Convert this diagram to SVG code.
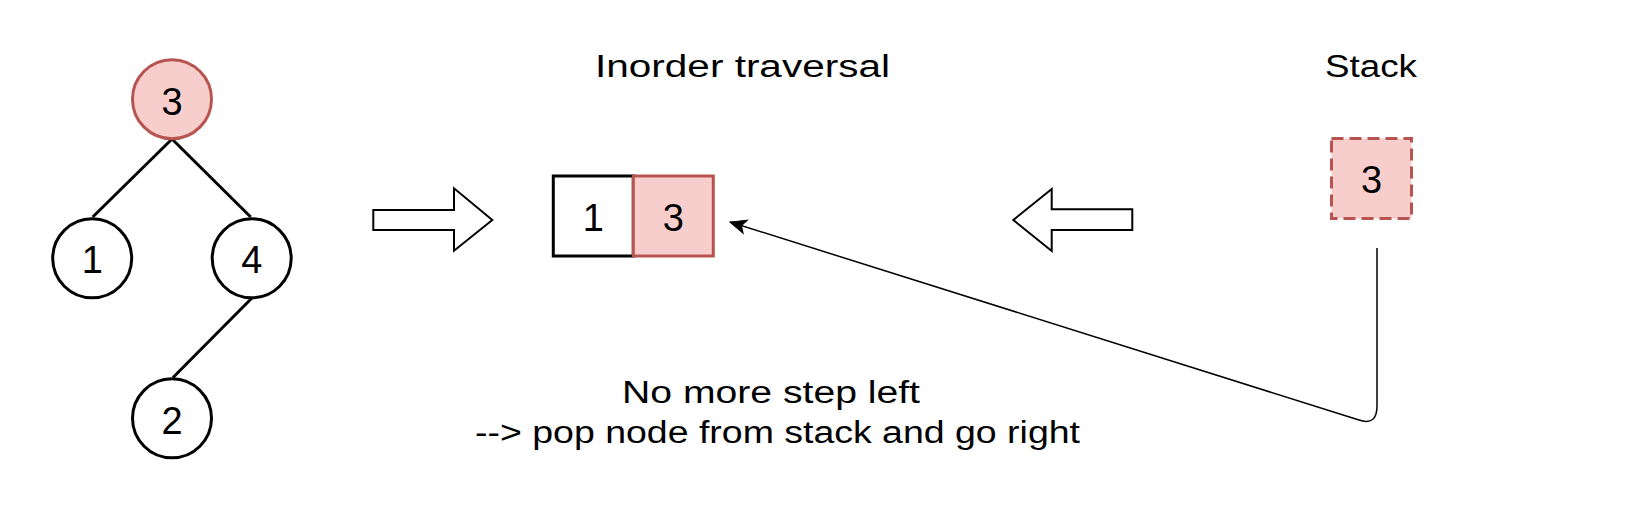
<svg xmlns="http://www.w3.org/2000/svg" width="1648" height="510" viewBox="0 0 1648 510">
<style>
.n{fill:#ffffff;stroke:#000000;stroke-width:3}
.hl{fill:#f8cecc;stroke:#b85450;stroke-width:3}
.dash{fill:#f8cecc;stroke:#b85450;stroke-width:3;stroke-dasharray:12 6}
.edge{fill:none;stroke:#000000;stroke-width:3}
.blk{fill:#ffffff;stroke:#000000;stroke-width:2}
.con{fill:none;stroke:#000000;stroke-width:1.5}
text{font-family:"Comic Sans MS","Liberation Sans",sans-serif;fill:#000000}
.d{font-size:38px;text-anchor:middle}
.t{font-size:31px}
</style>
<defs>
<marker id="ah" viewBox="0 0 20 20" refX="18" refY="10" markerWidth="20" markerHeight="20" markerUnits="userSpaceOnUse" orient="auto">
<path d="M2 3 L18 10 L2 17 L6 10 Z" fill="#000000" stroke="#000000" stroke-width="1"/>
</marker>
</defs>
<g id="connectors">
<line class="edge" x1="172" y1="139" x2="92.7" y2="217"/>
<line class="edge" x1="172" y1="139" x2="250.7" y2="217"/>
<line class="edge" x1="251.7" y1="298.3" x2="173" y2="377.5"/>
<path class="con" d="M1377 248 L1377 406 Q1377 426 1359 420 L730 222" marker-end="url(#ah)"/>
</g>
<g id="node-root"><circle class="hl" cx="172" cy="99.2" r="39.5"/><text class="d" x="172" y="114.5">3</text></g>
<g id="node-1"><circle class="n" cx="92.2" cy="258.3" r="39.5"/><text class="d" x="92.2" y="273">1</text></g>
<g id="node-4"><circle class="n" cx="251.7" cy="258.3" r="39.5"/><text class="d" x="251.7" y="273">4</text></g>
<g id="node-2"><circle class="n" cx="172" cy="418.3" r="39.5"/><text class="d" x="172" y="433.5">2</text></g>
<g id="arrow-right"><path class="blk" d="M373.3 210 L454 210 L454 188.3 L492.3 220 L454 250.7 L454 230 L373.3 230 Z"/></g>
<g id="arrow-left"><path class="blk" d="M1132.3 209.3 L1051.7 209.3 L1051.7 189 L1013.3 220 L1051.7 251 L1051.7 230 L1132.3 230 Z"/></g>
<g id="box-1"><rect class="n" x="553.3" y="176" width="80" height="80"/><text class="d" x="593.3" y="231">1</text></g>
<g id="box-3"><rect class="hl" x="633.3" y="176" width="80" height="80"/><text class="d" x="673.3" y="231">3</text></g>
<g id="stack-3"><rect class="dash" x="1331.5" y="138.5" width="80" height="80"/><text class="d" x="1371.5" y="193">3</text></g>
<g id="title-inorder"><text class="t" x="595" y="76.5" textLength="295" lengthAdjust="spacingAndGlyphs">Inorder traversal</text></g>
<g id="title-stack"><text class="t" x="1325" y="76.5" textLength="92" lengthAdjust="spacingAndGlyphs">Stack</text></g>
<g id="caption"><text class="t" x="622" y="403" textLength="298" lengthAdjust="spacingAndGlyphs">No more step left</text><text class="t" x="475" y="443" textLength="605" lengthAdjust="spacingAndGlyphs">--&gt; pop node from stack and go right</text></g>
</svg>
